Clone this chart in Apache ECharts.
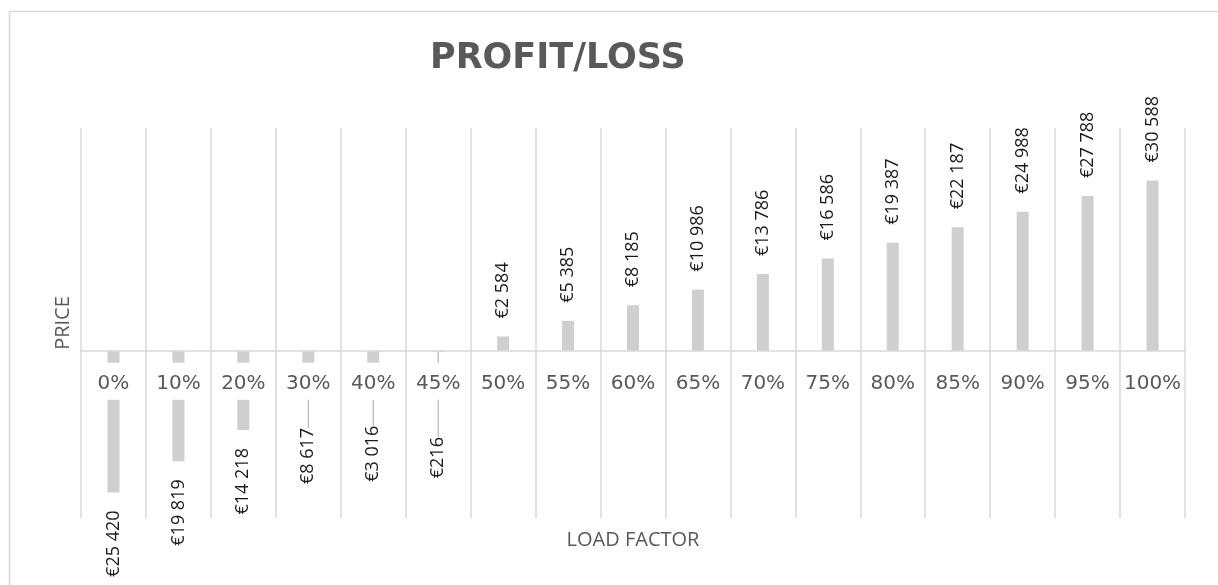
<!DOCTYPE html>
<html>
<head>
<meta charset="utf-8">
<script src="https://cdn.jsdelivr.net/npm/echarts@6/dist/echarts.min.js"></script>
<style>
    html, body { margin: 0; padding: 0; background: #fff; }
    #chart { width: 1218px; height: 585px; }
</style>
</head>
<body>
<div id="chart"></div>
<script>
// load factor categories and profit/loss per category (EUR)
var categories = ['0%', '10%', '20%', '30%', '40%', '45%', '50%', '55%', '60%', '65%', '70%', '75%', '80%', '85%', '90%', '95%', '100%'];
var profit = [-25420, -19819, -14218, -8617, -3016, -216, 2584, 5385, 8185, 10986, 13786, 16586, 19387, 22187, 24988, 27788, 30588];
var yMin = -30000, yMax = 40000;

// labels that were pulled further down (with a leader line), by index
var labelDrop = { 3: 11, 4: 40, 5: 67 };

var gridTop = 128, gridBottom = 67, plotH = 585 - gridTop - gridBottom;

function euro(v) {
    var s = String(Math.abs(v)).replace(/\B(?=(\d{3})+(?!\d))/g, ' ');
    return '€' + s;
}

var chart = echarts.init(document.getElementById('chart'));

var barData = profit.map(function (v, i) {
    var neg = v < 0;
    return {
        value: v,
        label: {
            position: neg ? 'bottom' : 'top',
            align: neg ? 'right' : 'left'
        },
        labelLine: { show: labelDrop[i] !== undefined }
    };
});

chart.setOption({
    animation: false,
    title: {
        text: 'PROFIT/LOSS',
        left: 430,
        top: 41,
        padding: 0,
        textStyle: {
            fontFamily: 'DejaVu Sans',
            fontWeight: 'bold',
            fontSize: 35,
            color: '#595959'
        }
    },
    graphic: [{
        type: 'rect',
        shape: { x: 9.5, y: 11.5, width: 1240, height: 620 },
        style: { fill: 'none', stroke: '#d9d9d9', lineWidth: 1.5 },
        silent: true
    }],
    grid: { left: 81, right: 33, top: gridTop, bottom: gridBottom, outerBoundsMode: 'none', containLabel: false },
    xAxis: {
        type: 'category',
        data: categories,
        z: 5,
        // move the axis up to the zero line
        offset: -plotH * (0 - yMin) / (yMax - yMin),
        name: 'LOAD FACTOR',
        nameLocation: 'middle',
        nameGap: 179,
        nameTextStyle: { fontFamily: 'Open Sans', fontSize: 20, color: '#595959' },
        axisLine: { onZero: false, lineStyle: { color: '#d9d9d9', width: 1.5 } },
        axisTick: { show: false, interval: 0 },
        splitLine: { show: true, interval: 0, lineStyle: { color: '#d9d9d9', width: 1.5 } },
        axisLabel: {
            interval: 0,
            margin: 12,
            fontFamily: 'DejaVu Sans',
            fontSize: 20,
            lineHeight: 20,
            color: '#595959',
            backgroundColor: '#fff',
            padding: [11, 3, 6, 3]
        }
    },
    yAxis: {
        type: 'value',
        min: yMin,
        max: yMax,
        name: 'PRICE',
        nameLocation: 'middle',
        nameGap: 8,
        nameTextStyle: { fontFamily: 'Open Sans', fontSize: 20, color: '#595959' },
        axisLine: { show: false },
        axisTick: { show: false },
        axisLabel: { show: false },
        splitLine: { show: false }
    },
    series: [{
        type: 'bar',
        data: barData,
        barWidth: 12,
        itemStyle: { color: '#d0cece' },
        label: {
            show: true,
            rotate: 90,
            distance: 18,
            verticalAlign: 'middle',
            fontFamily: 'Open Sans',
            fontSize: 18,
            color: '#1a1a1a',
            formatter: function (p) { return euro(p.value); }
        },
        labelLine: { lineStyle: { color: '#a6a6a6', width: 1 } },
        labelLayout: function (p) {
            var d = labelDrop[p.dataIndex];
            return d !== undefined ? { dx: -d } : {};
        }
    }]
});
</script>
</body>
</html>
